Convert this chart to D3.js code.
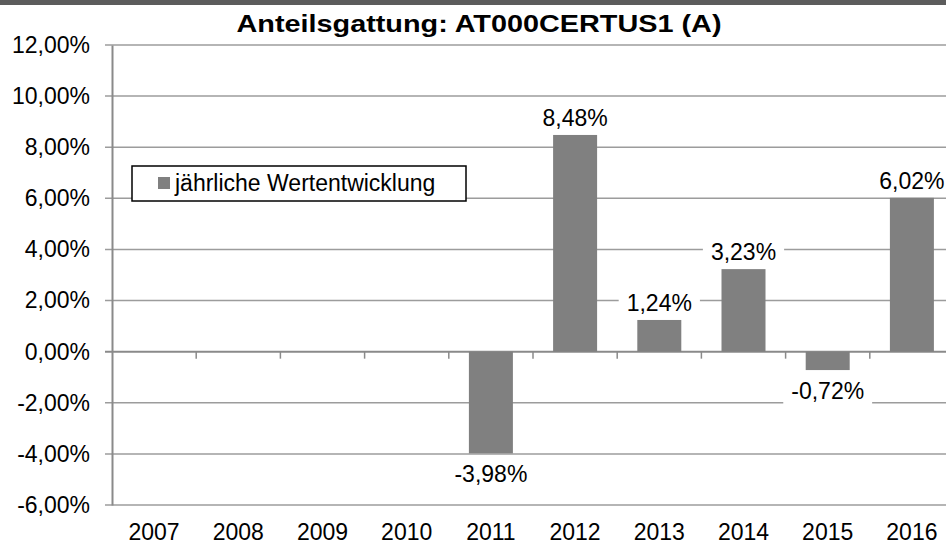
<!DOCTYPE html>
<html>
<head>
<meta charset="utf-8">
<script src="https://cdn.jsdelivr.net/npm/d3@7/dist/d3.min.js"></script>
<style>
  body { margin: 0; background: #fff; }
  svg { display: block; font-family: "Liberation Sans", Arial, sans-serif; }
</style>
</head>
<body>
<div id="chart"></div>
<script>
// data
var years = ["2007", "2008", "2009", "2010", "2011", "2012", "2013", "2014", "2015", "2016"];
var values = [null, null, null, null, -3.98, 8.48, 1.24, 3.23, -0.72, 6.02];
var yTicks = [-6, -4, -2, 0, 2, 4, 6, 8, 10, 12];
var title = "Anteilsgattung: AT000CERTUS1 (A)";
var seriesName = "jährliche Wertentwicklung";

var svgW = 946, svgH = 544;
var plotLeft = 112, plotTop = 45, plotBottom = 505;
var bandW = 84.2;
var fs = 23;

var fmt = function(v) { return v.toFixed(2).replace(".", ",") + "%"; };

var svg = d3.select("#chart").append("svg")
  .attr("width", svgW)
  .attr("height", svgH);

// dark strip at the very top
svg.append("rect").attr("x", 0).attr("y", 0).attr("width", svgW).attr("height", 5).attr("fill", "#5c5c5c");

var x = d3.scaleBand()
  .domain(years)
  .range([plotLeft, plotLeft + bandW * years.length]);

var y = d3.scaleLinear()
  .domain([-6, 12])
  .range([plotBottom, plotTop]);

// gridlines
svg.append("g").selectAll("line")
  .data(yTicks)
  .enter().append("line")
  .attr("x1", plotLeft - 7)
  .attr("x2", svgW)
  .attr("y1", function(d) { return y(d); })
  .attr("y2", function(d) { return y(d); })
  .attr("stroke", function(d) { return d === 0 ? "#8a8a8a" : "#9c9c9c"; })
  .attr("stroke-width", function(d) { return d === 0 ? 2 : 1.5; });

// y axis
var yAxis = svg.append("g")
  .attr("transform", "translate(" + plotLeft + ",0)")
  .call(d3.axisLeft(y).tickValues(yTicks).tickSize(0).tickPadding(22).tickFormat(fmt));
yAxis.select(".domain").attr("stroke", "#8a8a8a").attr("stroke-width", 2);
yAxis.selectAll("text")
  .attr("font-size", fs + "px")
  .attr("fill", "#000")
  .attr("font-family", "Liberation Sans, Arial, sans-serif");

// category ticks on the zero line
svg.append("g").selectAll("line")
  .data(years.slice(1))
  .enter().append("line")
  .attr("x1", function(d) { return x(d); })
  .attr("x2", function(d) { return x(d); })
  .attr("y1", y(0))
  .attr("y2", y(0) + 7)
  .attr("stroke", "#8a8a8a")
  .attr("stroke-width", 1.5);

// year labels
svg.append("g").selectAll("text")
  .data(years)
  .enter().append("text")
  .attr("x", function(d) { return x(d) + x.bandwidth() / 2; })
  .attr("y", 540)
  .attr("text-anchor", "middle")
  .attr("font-size", fs + "px")
  .text(function(d) { return d; });

var data = years.map(function(d, i) { return { year: d, value: values[i] }; })
  .filter(function(d) { return d.value !== null; });

var barW = 44;

svg.append("g").selectAll("rect")
  .data(data)
  .enter().append("rect")
  .attr("x", function(d) { return x(d.year) + (x.bandwidth() - barW) / 2; })
  .attr("y", function(d) { return y(Math.max(0, d.value)); })
  .attr("width", barW)
  .attr("height", function(d) { return Math.abs(y(d.value) - y(0)); })
  .attr("fill", "#808080");

// value labels with white background
var labels = svg.append("g").selectAll("g")
  .data(data)
  .enter().append("g");

labels.each(function(d) {
  var g = d3.select(this);
  var cx = x(d.year) + x.bandwidth() / 2;
  var by = d.value >= 0 ? y(d.value) - 9 : y(d.value) + 29;
  var t = g.append("text")
    .attr("x", cx)
    .attr("y", by)
    .attr("text-anchor", "middle")
    .attr("font-size", fs + "px")
    .text(fmt(d.value));
  var bb = t.node().getBBox();
  g.insert("rect", "text")
    .attr("x", bb.x - 8)
    .attr("y", bb.y - 2)
    .attr("width", bb.width + 16)
    .attr("height", bb.height + 4)
    .attr("fill", "#fff");
});

// legend
var legend = svg.append("g");
legend.append("rect")
  .attr("x", 132).attr("y", 166)
  .attr("width", 334).attr("height", 35)
  .attr("fill", "#fff")
  .attr("stroke", "#000")
  .attr("stroke-width", 1.5);
legend.append("rect")
  .attr("x", 158).attr("y", 177)
  .attr("width", 12).attr("height", 12)
  .attr("fill", "#808080");
legend.append("text")
  .attr("x", 175).attr("y", 191)
  .attr("font-size", fs + "px")
  .text(seriesName);

// title
svg.append("text")
  .attr("x", 479)
  .attr("y", 32)
  .attr("text-anchor", "middle")
  .attr("font-size", "24px")
  .attr("font-weight", "bold")
  .attr("textLength", 485)
  .attr("lengthAdjust", "spacingAndGlyphs")
  .text(title);
</script>
</body>
</html>
